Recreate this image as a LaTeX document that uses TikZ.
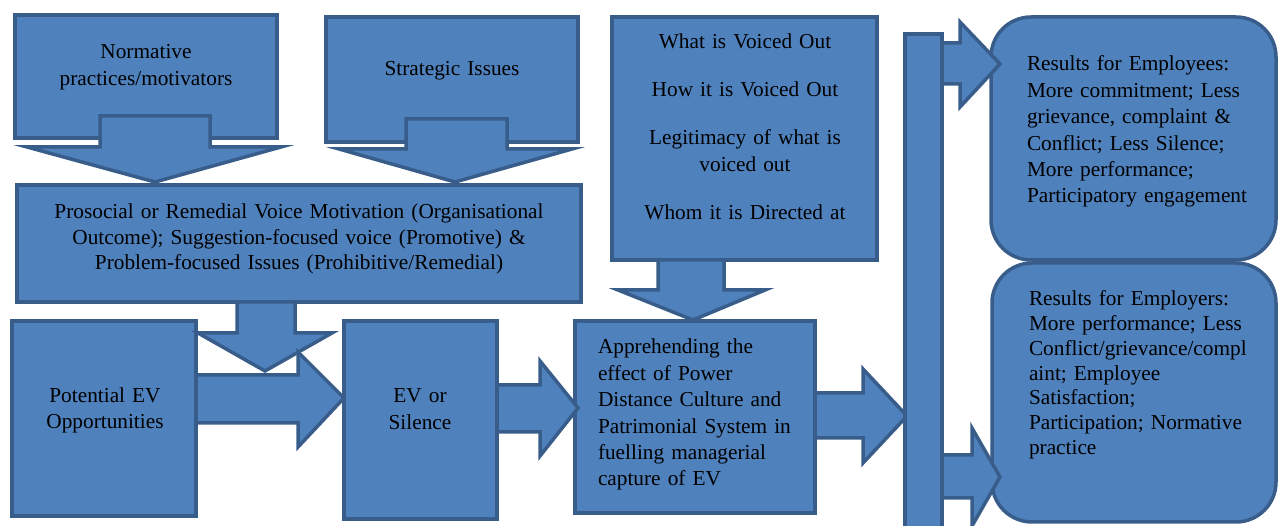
\documentclass[tikz,border=0pt]{standalone}
\usepackage{fontspec}
\setmainfont{Liberation Serif}
\definecolor{boxfill}{HTML}{4F81BD}
\definecolor{boxline}{HTML}{385D8A}
\tikzset{
  box/.style={draw=boxline, fill=boxfill, line width=3.5pt, inner sep=0pt, outer sep=0pt},
  rbox/.style={box, rounded corners=40pt},
  blk/.style={draw=boxline, fill=boxfill, line width=3.5pt, line join=miter, miter limit=10},
  txt/.style={inner sep=0pt, outer sep=0pt, text=black},
  ctxt/.style={txt, anchor=base, align=center, text width=#1},
  ltxt/.style={txt, anchor=base west, align=left, text width=#1},
}
\newcommand{\fs}[1]{\fontsize{21.3}{#1}\selectfont}
\begin{document}
\begin{tikzpicture}[x=1pt,y=-1pt]
\path[use as bounding box, clip] (0,0) rectangle (1278,526);
% boxes
\node[box, minimum width=262, minimum height=123] (norm) at (146,76.5) {};
\node[box, minimum width=252, minimum height=125] (strat) at (452,79.5) {};
\node[box, minimum width=564, minimum height=117] (pros) at (299,243.5) {};
\node[box, minimum width=184, minimum height=195] (pot) at (104,418.5) {};
\node[box, minimum width=153, minimum height=198] (ev) at (420.5,420) {};
\node[box, minimum width=265, minimum height=243] (what) at (744.5,138.5) {};
\node[box, minimum width=240, minimum height=192] (appr) at (695,417) {};
\node[rbox, minimum width=285, minimum height=243] (emp) at (1133.5,138.5) {};
\node[rbox, minimum width=284, minimum height=259] (empr) at (1134,392.5) {};
% texts
\node[ctxt=250pt, font=\fs{27}] (normT) at (146,59) {Normative\\practices/motivators};
\node[ctxt=240pt, font=\fs{26.4}] (stratT) at (452,76) {Strategic Issues};
\node[ctxt=550pt, font=\fs{25.5}] (prosT) at (299,219) {Prosocial or Remedial Voice Motivation (Organisational\\Outcome); Suggestion-focused voice (Promotive) \&\\Problem-focused Issues (Prohibitive/Remedial)};
\node[ctxt=175pt, font=\fs{26}] (potT) at (105,403) {Potential EV\\Opportunities};
\node[ctxt=145pt, font=\fs{27}] (evT) at (420,403) {EV or\\Silence};
\node[ctxt=255pt, font=\fs{27}] (whatT) at (745,49) {What is Voiced Out\\[21pt]How it is Voiced Out\\[21pt]Legitimacy of what is\\voiced out\\[21pt]Whom it is Directed at};
\node[ltxt=215pt, font=\fs{26.4}] (apprT) at (598,354) {Apprehending the\\effect of Power\\Distance Culture and\\Patrimonial System in\\fuelling managerial\\capture of EV};
\node[ltxt=245pt, font=\fs{26.4}] (empT) at (1027,71) {Results for Employees:\\More commitment; Less\\grievance, complaint \&\\Conflict; Less Silence;\\More performance;\\Participatory engagement};
\node[ltxt=245pt, font=\fs{24.7}] (emprT) at (1029,306) {Results for Employers:\\More performance; Less\\Conflict/grievance/compl\\aint; Employee\\Satisfaction;\\Participation; Normative\\practice};
% block arrows
\draw[blk] (100,116) -- (210,116) -- (210,147) -- (281,147) -- (155,182) -- (27,147) -- (100,147) -- cycle;
\draw[blk] (406,119) -- (507,119) -- (507,149) -- (572,149) -- (455,182) -- (339,149) -- (406,149) -- cycle;
\draw[blk] (237,302) -- (295,302) -- (295,333) -- (332,333) -- (265,371) -- (198,333) -- (237,333) -- cycle;
\draw[blk] (658,260) -- (724,260) -- (724,290) -- (765,290) -- (693,320) -- (618,290) -- (658,290) -- cycle;
\draw[blk] (196,375) -- (298,375) -- (298,352) -- (344,398) -- (298,447) -- (298,423) -- (196,423) -- cycle;
\draw[blk] (497,385) -- (540,385) -- (540,361) -- (578,408) -- (540,456) -- (540,432) -- (497,432) -- cycle;
\draw[blk] (815,393) -- (863,393) -- (863,369) -- (907,416) -- (863,463) -- (863,438) -- (815,438) -- cycle;
\draw[blk] (940,43) -- (960,43) -- (960,22) -- (1000,64) -- (960,107) -- (960,84) -- (940,84) -- cycle;
\draw[blk] (940,455) -- (972,455) -- (972,428) -- (1000,477) -- (972,526) -- (972,498) -- (940,498) -- cycle;
% vertical bar
\node[box, minimum width=37, minimum height=526] (bar) at (923.5,297) {};
\end{tikzpicture}
\end{document}
